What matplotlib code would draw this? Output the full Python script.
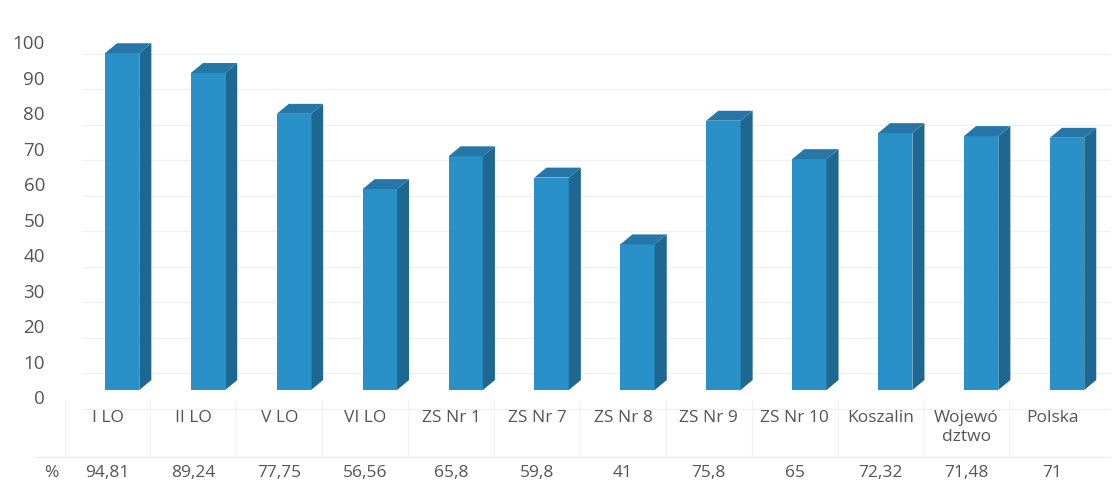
import numpy as np
import matplotlib.pyplot as plt
from matplotlib.patches import Polygon
from matplotlib.transforms import ScaledTranslation

# data
categories = ['I LO', 'II LO', 'V LO', 'VI LO', 'ZS Nr 1', 'ZS Nr 7', 'ZS Nr 8',
              'ZS Nr 9', 'ZS Nr 10', 'Koszalin', 'Wojewó\ndztwo', 'Polska']
values = [94.81, 89.24, 77.75, 56.56, 65.8, 59.8, 41, 75.8, 65, 72.32, 71.48, 71]
value_labels = ['94,81', '89,24', '77,75', '56,56', '65,8', '59,8', '41',
                '75,8', '65', '72,32', '71,48', '71']
yticks = np.arange(0, 101, 10)

plt.rcParams['font.family'] = ['Open Sans', 'DejaVu Sans']

W, H = 1117, 482
fig = plt.figure(figsize=(W / 100, H / 100), dpi=100)
ax = fig.add_axes([62 / W, 92 / H, (1110 - 62) / W, 373 / H])
ax.set_xlim(-0.7, 11.5)
ax.set_ylim(0, 105)
ax.axis('off')

front = '#2990c8'
side = '#1e6790'
top = '#2677a8'
w = 0.2      # half width of front face
dx = 0.14    # depth in x (data units)
dy = 2.8     # depth in y (data units)

# faint gridlines (back wall, shifted on screen)
grid_off = ScaledTranslation(0, -19 / 100, fig.dpi_scale_trans)
for t in yticks:
    ax.plot([-0.45, 11.5], [t, t], color='#f0f0f0', lw=0.9, zorder=0,
            transform=ax.transData + grid_off, clip_on=False)

for i, v in enumerate(values):
    ax.add_patch(Polygon([(i - w, 0), (i + w, 0), (i + w, v), (i - w, v)],
                         closed=True, fc=front, ec='none', zorder=3))
    ax.add_patch(Polygon([(i + w, 0), (i + w + dx, dy), (i + w + dx, v + dy), (i + w, v)],
                         closed=True, fc=side, ec='none', zorder=3))
    ax.add_patch(Polygon([(i - w, v), (i + w, v), (i + w + dx, v + dy), (i - w + dx, v + dy)],
                         closed=True, fc=top, ec='none', zorder=3))

# y axis labels (sit a little lower than the front-face levels)
lab_off = ScaledTranslation(0, -9.5 / 100, fig.dpi_scale_trans)
ytr = ax.get_yaxis_transform() + lab_off
for t in yticks:
    ax.text(-17 / 1048, t, str(t), ha='right', va='center', fontsize=13.5,
            color='#555555', transform=ytr, clip_on=False)

# data table below the plot
tr = ax.get_xaxis_transform()
def fy(py):
    # pixel row (from top) -> axes fraction
    return (H - py - 92) / 373

for i, (c, vl) in enumerate(zip(categories, value_labels)):
    ax.text(i - 0.17, fy(410), c, ha='center', va='top', fontsize=12.5,
            color='#555555', transform=tr, linespacing=1.25)
    ax.text(i - 0.17, fy(473), vl, ha='center', va='center', fontsize=12.5,
            color='#555555', transform=tr)
ax.text(-0.82, fy(473), '%', ha='center', va='center', fontsize=12.5,
        color='#555555', transform=tr, clip_on=False)

ax.plot([-1.03, 11.5], [fy(457), fy(457)], color='#ededed', lw=0.9,
        transform=tr, clip_on=False)
for i in range(12):
    ax.plot([i - 0.67, i - 0.67], [fy(400), fy(457)], color='#f3f3f3', lw=0.8,
            transform=tr, clip_on=False)

fig.savefig('out.png', dpi=100)
